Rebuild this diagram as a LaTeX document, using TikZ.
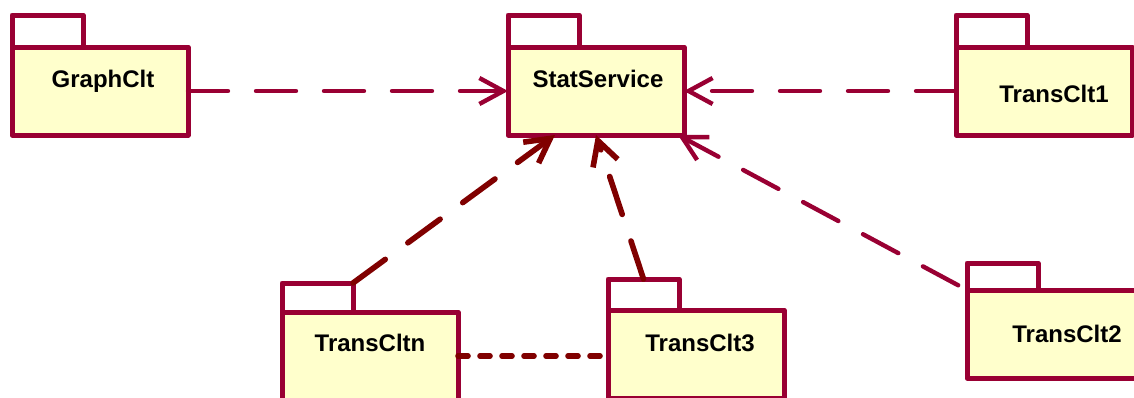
\documentclass[tikz,border=0pt]{standalone}
\usepackage{fontspec}
\setmainfont{Liberation Sans}
\usetikzlibrary{arrows.meta,positioning,calc}
\definecolor{pkgline}{RGB}{153,0,51}
\definecolor{pkgfill}{RGB}{255,255,204}
\definecolor{deplink}{RGB}{128,0,0}
\begin{document}
\begin{tikzpicture}[x=0.5pt, y=-0.5pt, line join=round,
  pkg body/.style={rectangle,draw=pkgline,fill=pkgfill,line width=2.5pt,minimum width=88pt,minimum height=44pt,inner sep=0pt,outer sep=0pt},
  pkg tab/.style={rectangle,draw=pkgline,fill=white,line width=2.5pt,minimum width=35.5pt,minimum height=16pt,inner sep=0pt,outer sep=0pt,anchor=south west},
  pkg name/.style={font=\bfseries\fontsize{12}{14}\selectfont,anchor=base,inner sep=0pt},
  dep/.style={draw=pkgline,line width=2.2pt,line cap=round,dash pattern=on 20pt off 14pt,-{Straight Barb[length=12pt,width=13pt]}},
  dep dark/.style={dep,draw=deplink,line width=2.8pt},
  link dark/.style={draw=deplink,line width=2.8pt,line cap=round,dash pattern=on 5pt off 6pt}]
\useasboundingbox (0,0) rectangle (1134,397);
% packages
\node[pkg body] (gc) at (100,91) {};
\node[pkg tab] (gc tab) at (gc.north west) {};
\node[pkg name] (gc name) at ($(gc.north)+(3,40)$) {GraphClt};
\node[pkg body] (ss) at (596,91) {};
\node[pkg tab] (ss tab) at (ss.north west) {};
\node[pkg name] (ss name) at ($(ss.north)+(2,40)$) {StatService};
\node[pkg body] (t1) at (1044,91) {};
\node[pkg tab] (t1 tab) at (t1.north west) {};
\node[pkg name] (t1 name) at ($(t1.north)+(10,55)$) {TransClt1};
\node[pkg body] (t2) at (1055,334) {};
\node[pkg tab,minimum height=13.5pt] (t2 tab) at (t2.north west) {};
\node[pkg name] (t2 name) at ($(t2.north)+(12,52)$) {TransClt2};
\node[pkg body] (tn) at (370,356) {};
\node[pkg tab,minimum height=14.5pt] (tn tab) at (tn.north west) {};
\node[pkg name] (tn name) at ($(tn.north)+(0,39)$) {TransCltn};
\node[pkg body] (t3) at (696,354) {};
\node[pkg tab,minimum height=15.5pt] (t3 tab) at (t3.north west) {};
\node[pkg name] (t3 name) at ($(t3.north)+(4,41)$) {TransClt3};
% dependencies
\draw[dep] (gc) -- (ss);
\draw[dep] (t1) -- (ss);
\draw[dep,shorten <=5pt] (t2 tab.south west) -- ($(ss.south west)!0.966!(ss.south east)$);
\draw[dep dark] (tn tab.north east) -- ($(ss.south west)!0.267!(ss.south east)$);
\draw[dep dark] (t3 tab.north) -- (ss.south);
\draw[link dark] (tn.east) -- (tn.east -| t3.west);
\end{tikzpicture}
\end{document}
